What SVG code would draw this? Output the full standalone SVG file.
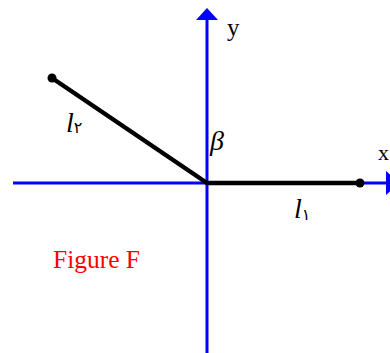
<svg xmlns="http://www.w3.org/2000/svg" width="390" height="353" viewBox="0 0 390 353">
<style>
.axis{stroke:#0000ff;stroke-width:3;fill:none}
.arm{stroke:#000;stroke-width:4.5;stroke-linecap:round;fill:none}
.t{font-family:"Liberation Serif",serif;fill:#000}
.lab{font-family:"Liberation Serif","DejaVu Serif",serif;font-style:italic;fill:#000}
.sub{font-style:normal;font-family:"Noto Sans","DejaVu Sans",sans-serif}
</style>
<g id="axes">
<line class="axis" x1="13" y1="183" x2="388" y2="183"/>
<polygon points="386,171 386,195 400,183" fill="#0000ff"/>
<line class="axis" x1="207" y1="353" x2="207" y2="18"/>
<polygon points="196,20 218,20 207,8" fill="#0000ff"/>
<text class="t" x="227" y="36" font-size="25">y</text>
<text class="t" x="378" y="160" font-size="22">x</text>
</g>
<g id="connectors">
<line class="arm" x1="207" y1="183" x2="360" y2="183"/>
<line class="arm" x1="207" y1="183" x2="52" y2="78"/>
<circle cx="360" cy="183" r="4.5" fill="#000"/>
<circle cx="52" cy="78" r="4.5" fill="#000"/>
</g>
<g id="labels">
<text class="lab" x="210" y="150" font-size="28">β</text>
<text class="lab" x="294" y="218" font-size="28">l<tspan class="sub" font-size="16" dy="2">۱</tspan></text>
<text class="lab" x="66" y="132" font-size="28">l<tspan class="sub" font-size="16" dy="1">۲</tspan></text>
<text x="53" y="268" font-family="'Liberation Serif',serif" font-size="25" textLength="87" lengthAdjust="spacingAndGlyphs" fill="#ff0000">Figure F</text>
</g>
</svg>
